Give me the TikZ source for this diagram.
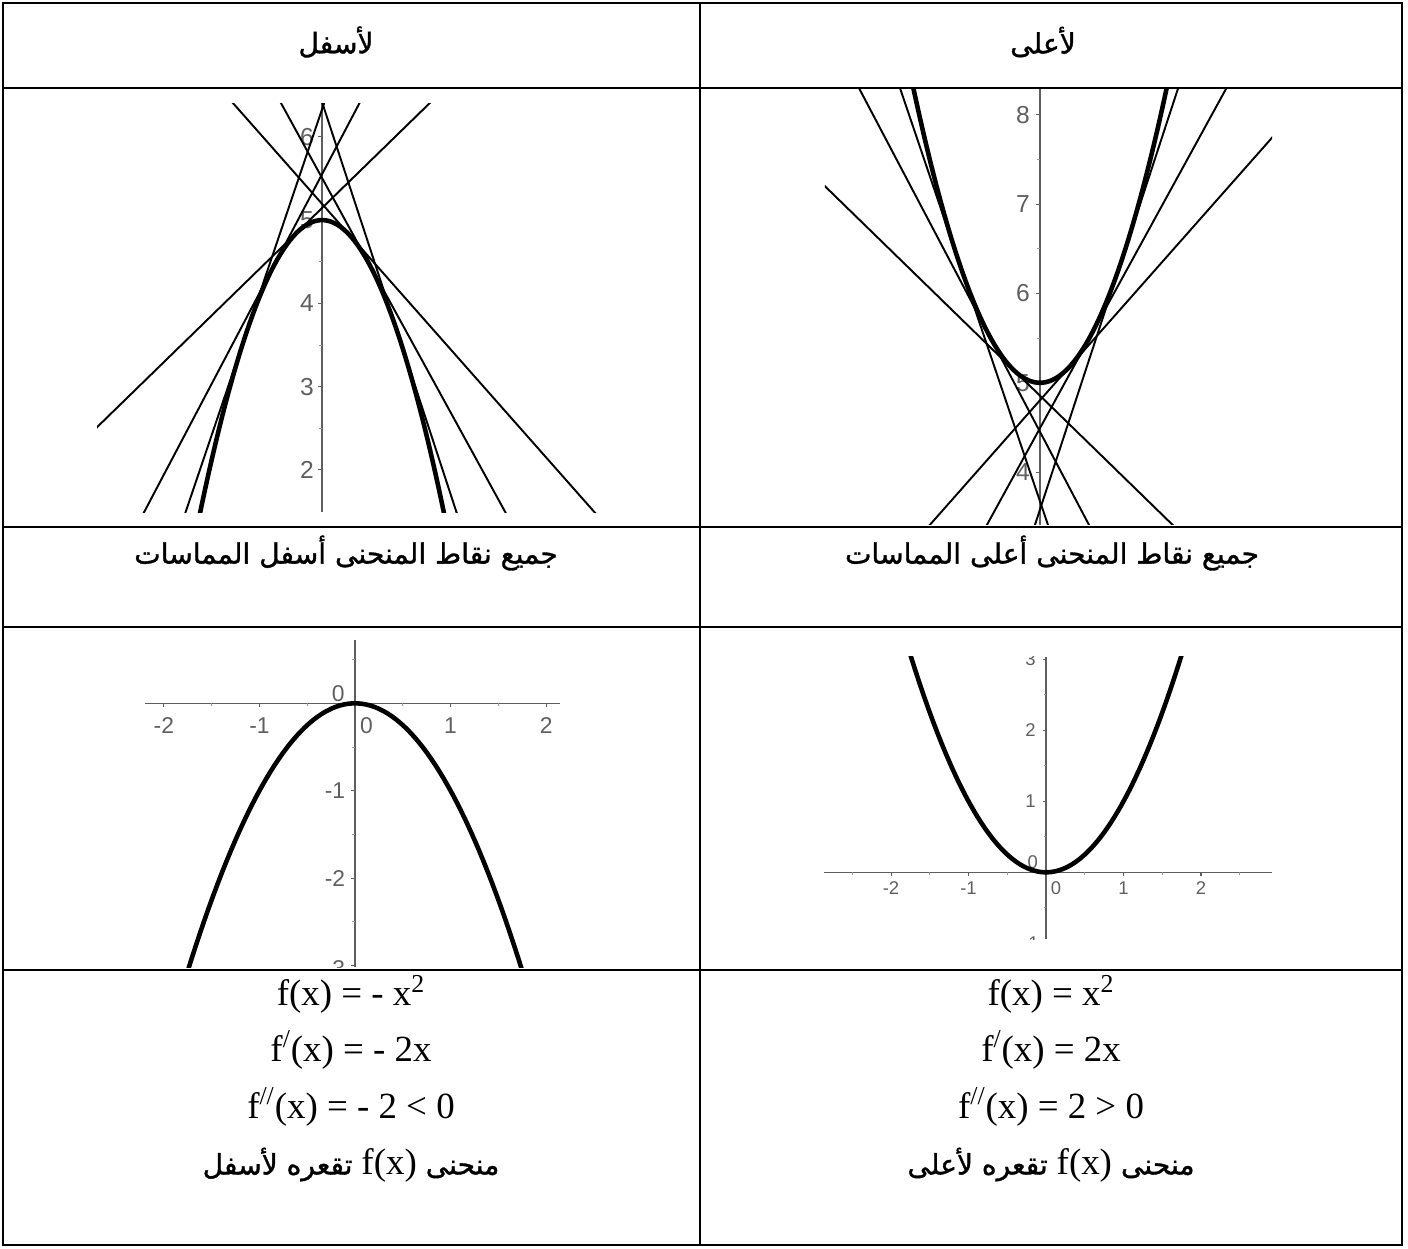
\documentclass[tikz,border=0pt]{standalone}
\usepackage{fontspec}
\setmainfont{Liberation Serif}
\newfontfamily\arabicfont[Script=Arabic,UprightFeatures={FakeBold=1.2}]{DejaVu Sans}
\newfontfamily\axisfont{Liberation Sans}
\TeXXeTstate=1
\definecolor{axgray}{RGB}{95,95,95}
\definecolor{tkgray}{RGB}{150,150,150}
\tikzset{
  tbl/.style={line width=1.3pt},
  curve/.style={line width=2.6pt,line join=round},
  tang/.style={line width=1.1pt},
  axln/.style={draw=axgray,line width=0.6pt},
  majtk/.style={draw=axgray,line width=0.6pt},
  mintk/.style={draw=tkgray,line width=0.5pt},
  axlab/.style={font=\axisfont\fontsize{14}{16}\selectfont,text=axgray,inner sep=0pt},
  axlabm/.style={axlab,font=\axisfont\fontsize{13}{15}\selectfont},
  axlabs/.style={axlab,font=\axisfont\fontsize{10.5}{12}\selectfont},
  artext/.style={font=\arabicfont\fontsize{16}{20}\selectfont,inner sep=0pt},
  eqtext/.style={font=\fontsize{21}{25}\selectfont,inner sep=0pt},
}

\begin{document}
\begin{tikzpicture}[x=0.02cm,y=-0.02cm]
  \useasboundingbox (0,0) rectangle (1408,1248);
  \draw[tbl] (3,3) rectangle (1402,1245);
  \draw[tbl] (700,3) -- (700,1245);
  \foreach \r in {88,527,627,970} \draw[tbl] (3,\r) -- (1402,\r);

  \node[artext] (hdlow) at (336,42) {\beginR لأسفل\endR};
  \node[artext] (hdup) at (1043,42) {\beginR لأعلى\endR};

  % concave down, with tangents
  \begin{scope}[shift={(322,636.5)},x=1.666cm,y=1.666cm]
    \clip (-2.7,1.495) rectangle (3.4,6.4);
    \draw[axln] (0,1.495) -- (0,6.4);
    \foreach \k in {2,...,6} {
      \draw[majtk] (0,\k) -- ++(-2.3pt,0);
      \node[axlab] (tl\k) at (-0.18,\k) {\k};
    }
    \foreach \k in {2.5,3.5,4.5,5.5} \draw[mintk] (0,\k) -- ++(-1.5pt,0);
    \foreach \t in {-0.9,-0.579,-0.297,0.345,0.556,0.93}
      \draw[tang] (-3,{5+1.64*(\t)*(\t)+3.28*(\t)*3}) -- (3.5,{5+1.64*(\t)*(\t)-3.28*(\t)*3.5});
    \draw[curve] plot[domain=-1.6:1.6,samples=80] (\x,{5-1.64*(\x)*(\x)});
  \end{scope}

  % concave up, with tangents
  \begin{scope}[shift={(1040,829.2)},x=1.786cm,y=1.786cm]
    \clip (-2.41,3.41) rectangle (2.60,8.29);
    \draw[axln] (0,3.41) -- (0,8.29);
    \foreach \k in {4,...,8} {
      \draw[majtk] (0,\k) -- ++(-2.3pt,0);
      \node[axlab] (tr\k) at (-0.19,\k) {\k};
    }
    \foreach \k in {3.5,4.5,5.5,6.5,7.5} \draw[mintk] (0,\k) -- ++(-1.5pt,0);
    \foreach \t in {-0.9,-0.579,-0.297,0.345,0.556,0.93}
      \draw[tang] (-3,{5-1.64*(\t)*(\t)-3.28*(\t)*3}) -- (3,{5-1.64*(\t)*(\t)+3.28*(\t)*3});
    \draw[curve] plot[domain=-1.6:1.6,samples=80] (\x,{5+1.64*(\x)*(\x)});
  \end{scope}

  \node[artext] (ptlow) at (346,553) {\beginR جميع نقاط المنحنى أسفل المماسات\endR};
  \node[artext] (ptup) at (1052,553) {\beginR جميع نقاط المنحنى أعلى المماسات\endR};

  % f(x) = -x^2
  \begin{scope}[shift={(355,703.3)},x=1.912cm,y=1.748cm]
    \clip (-2.3,-3.02) rectangle (2.3,0.85);
    \draw[axln] (-2.197,0) -- (2.144,0);
    \draw[axln] (0,-3.02) -- (0,0.72);
    \foreach \k in {-2,-1,1,2} {
      \draw[majtk] (\k,0) -- ++(0,-2.3pt);
      \node[axlabm] (blx\k) at (\k,-0.25) {\k};
    }
    \foreach \k in {-1.5,-0.5,0.5,1.5} \draw[mintk] (\k,0) -- ++(0,-1.5pt);
    \foreach \k in {-1,-2} {
      \draw[majtk] (0,\k) -- ++(-2.3pt,0);
      \node[axlabm] (bly\k) at (-0.21,\k) {\k};
    }
    \draw[majtk] (0,-3) -- ++(-2.3pt,0);
    \node[axlabm,anchor=north] (bly-3) at (-0.21,-2.935) {-3};
    \foreach \k in {0.5,-0.5,-1.5,-2.5} \draw[mintk] (0,\k) -- ++(-1.5pt,0);
    \node[axlabm] (blx0) at (0.12,-0.25) {0};
    \node[axlabm] (bly0) at (-0.175,0.114) {0};
    \draw[curve] plot[domain=-1.8:1.8,samples=80] (\x,{-(\x)*(\x)});
  \end{scope}

  % f(x) = x^2
  \begin{scope}[shift={(1046,872.3)},x=1.55cm,y=1.42cm]
    \clip (-2.9,-0.94) rectangle (2.95,3.04);
    \draw[axln] (-2.87,0) -- (2.92,0);
    \draw[axln] (0,-0.94) -- (0,3.04);
    \foreach \k in {-2,-1,1,2} {
      \draw[majtk] (\k,0) -- ++(0,-2pt);
      \node[axlabs] (brx\k) at (\k,-0.225) {\k};
    }
    \foreach \k in {-2.5,-1.5,-0.5,0.5,1.5,2.5} \draw[mintk] (\k,0) -- ++(0,-1.3pt);
    \foreach \k in {-1,1,2,3} {
      \draw[majtk] (0,\k) -- ++(-2pt,0);
      \node[axlabs] (bry\k) at (-0.2,\k) {\k};
    }
    \foreach \k in {-0.5,0.5,1.5,2.5} \draw[mintk] (0,\k) -- ++(-1.3pt,0);
    \node[axlabs] (brx0) at (0.13,-0.225) {0};
    \node[axlabs] (bry0) at (-0.17,0.15) {0};
    \draw[curve] plot[domain=-1.8:1.8,samples=80] (\x,{(\x)*(\x)});
  \end{scope}

  \node[eqtext] (flow) at (351,994) {f(x) = - x\textsuperscript{2}};
  \node[eqtext] (dlow) at (351,1050) {f\textsuperscript{/}(x) = - 2x};
  \node[eqtext] (ddlow) at (351,1107) {f\textsuperscript{//}(x) = - 2 < 0};
  \node[artext] (cclow) at (351,1165) {\beginR منحنى \beginL{\rmfamily\fontsize{21}{25}\selectfont f(x)}\endL{} تقعره لأسفل\endR};

  \node[eqtext] (fup) at (1051,994) {f(x) = x\textsuperscript{2}};
  \node[eqtext] (dup) at (1051,1050) {f\textsuperscript{/}(x) = 2x};
  \node[eqtext] (ddup) at (1051,1107) {f\textsuperscript{//}(x) = 2 > 0};
  \node[artext] (ccup) at (1051,1165) {\beginR منحنى \beginL{\rmfamily\fontsize{21}{25}\selectfont f(x)}\endL{} تقعره لأعلى\endR};
\end{tikzpicture}
\end{document}
